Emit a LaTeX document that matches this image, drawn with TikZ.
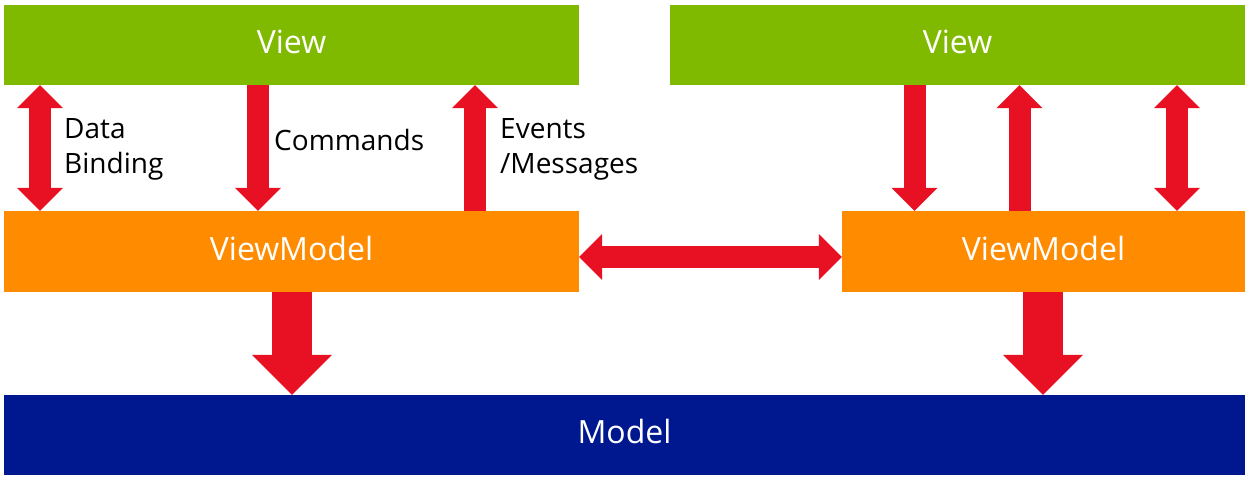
\documentclass[tikz,border=0pt]{standalone}
\usepackage{fontspec}
\setmainfont{Open Sans}
\usetikzlibrary{arrows.meta}
\definecolor{viewgreen}{HTML}{7FBA00}
\definecolor{vmorange}{HTML}{FF8C00}
\definecolor{modelblue}{HTML}{00188F}
\definecolor{arrowred}{HTML}{E81123}
\tikzset{
  box/.style={minimum height=80pt, inner sep=0pt, text depth=7pt, text=white, font=\fontsize{32}{36}\selectfont},
  lbl/.style={anchor=west, align=left, inner sep=0pt, font=\fontsize{28}{35}\selectfont},
  redtip/.tip={Triangle[width=46pt,length=23pt,line width=0pt]},
  bigtip/.tip={Triangle[width=80pt,length=40pt,line width=0pt]},
  thinarrow/.style={draw=arrowred, line width=22pt, -redtip},
  thinboth/.style={draw=arrowred, line width=22pt, redtip-redtip},
  fatarrow/.style={draw=arrowred, line width=40pt, -bigtip}
}
\begin{document}
\begin{tikzpicture}[x=1pt,y=-1pt]
  \useasboundingbox (0,0) rectangle (1251,482);
  % boxes
  \node[box, fill=viewgreen, minimum width=575pt] (viewL) at (291.5,45) {View};
  \node[box, fill=viewgreen, minimum width=575pt] (viewR) at (957.5,45) {View};
  \node[box, fill=vmorange, minimum width=575pt, minimum height=81pt] (vmL) at (291.5,251.5) {ViewModel};
  \node[box, fill=vmorange, minimum width=403pt, minimum height=81pt] (vmR) at (1043.5,251.5) {ViewModel};
  \node[box, fill=modelblue, minimum width=1241pt] (model) at (624.5,435) {Model};
  % left view <-> viewmodel
  \draw[thinboth] (40,0 |- viewL.south) -- (40,0 |- vmL.north);
  \draw[thinarrow] (258,0 |- viewL.south) -- (258,0 |- vmL.north);
  \draw[thinarrow] (475,0 |- vmL.north) -- (475,0 |- viewL.south);
  \node[lbl] (bind) at (64,149.5) {Data\\Binding};
  \node[lbl] (cmds) at (274,140) {Commands};
  \node[lbl] (evts) at (500,149.5) {Events\\/Messages};
  % right view <-> viewmodel
  \draw[thinarrow] (914.5,0 |- viewR.south) -- (914.5,0 |- vmR.north);
  \draw[thinarrow] (1019.5,0 |- vmR.north) -- (1019.5,0 |- viewR.south);
  \draw[thinboth] (1177,0 |- viewR.south) -- (1177,0 |- vmR.north);
  % viewmodel <-> viewmodel
  \draw[thinboth] ([yshift=-5.5pt]vmL.east) -- ([yshift=-5.5pt]vmR.west);
  % to model
  \draw[fatarrow] (292,0 |- vmL.south) -- (292,0 |- model.north);
  \draw[fatarrow] (1043,0 |- vmR.south) -- (1043,0 |- model.north);
\end{tikzpicture}
\end{document}
